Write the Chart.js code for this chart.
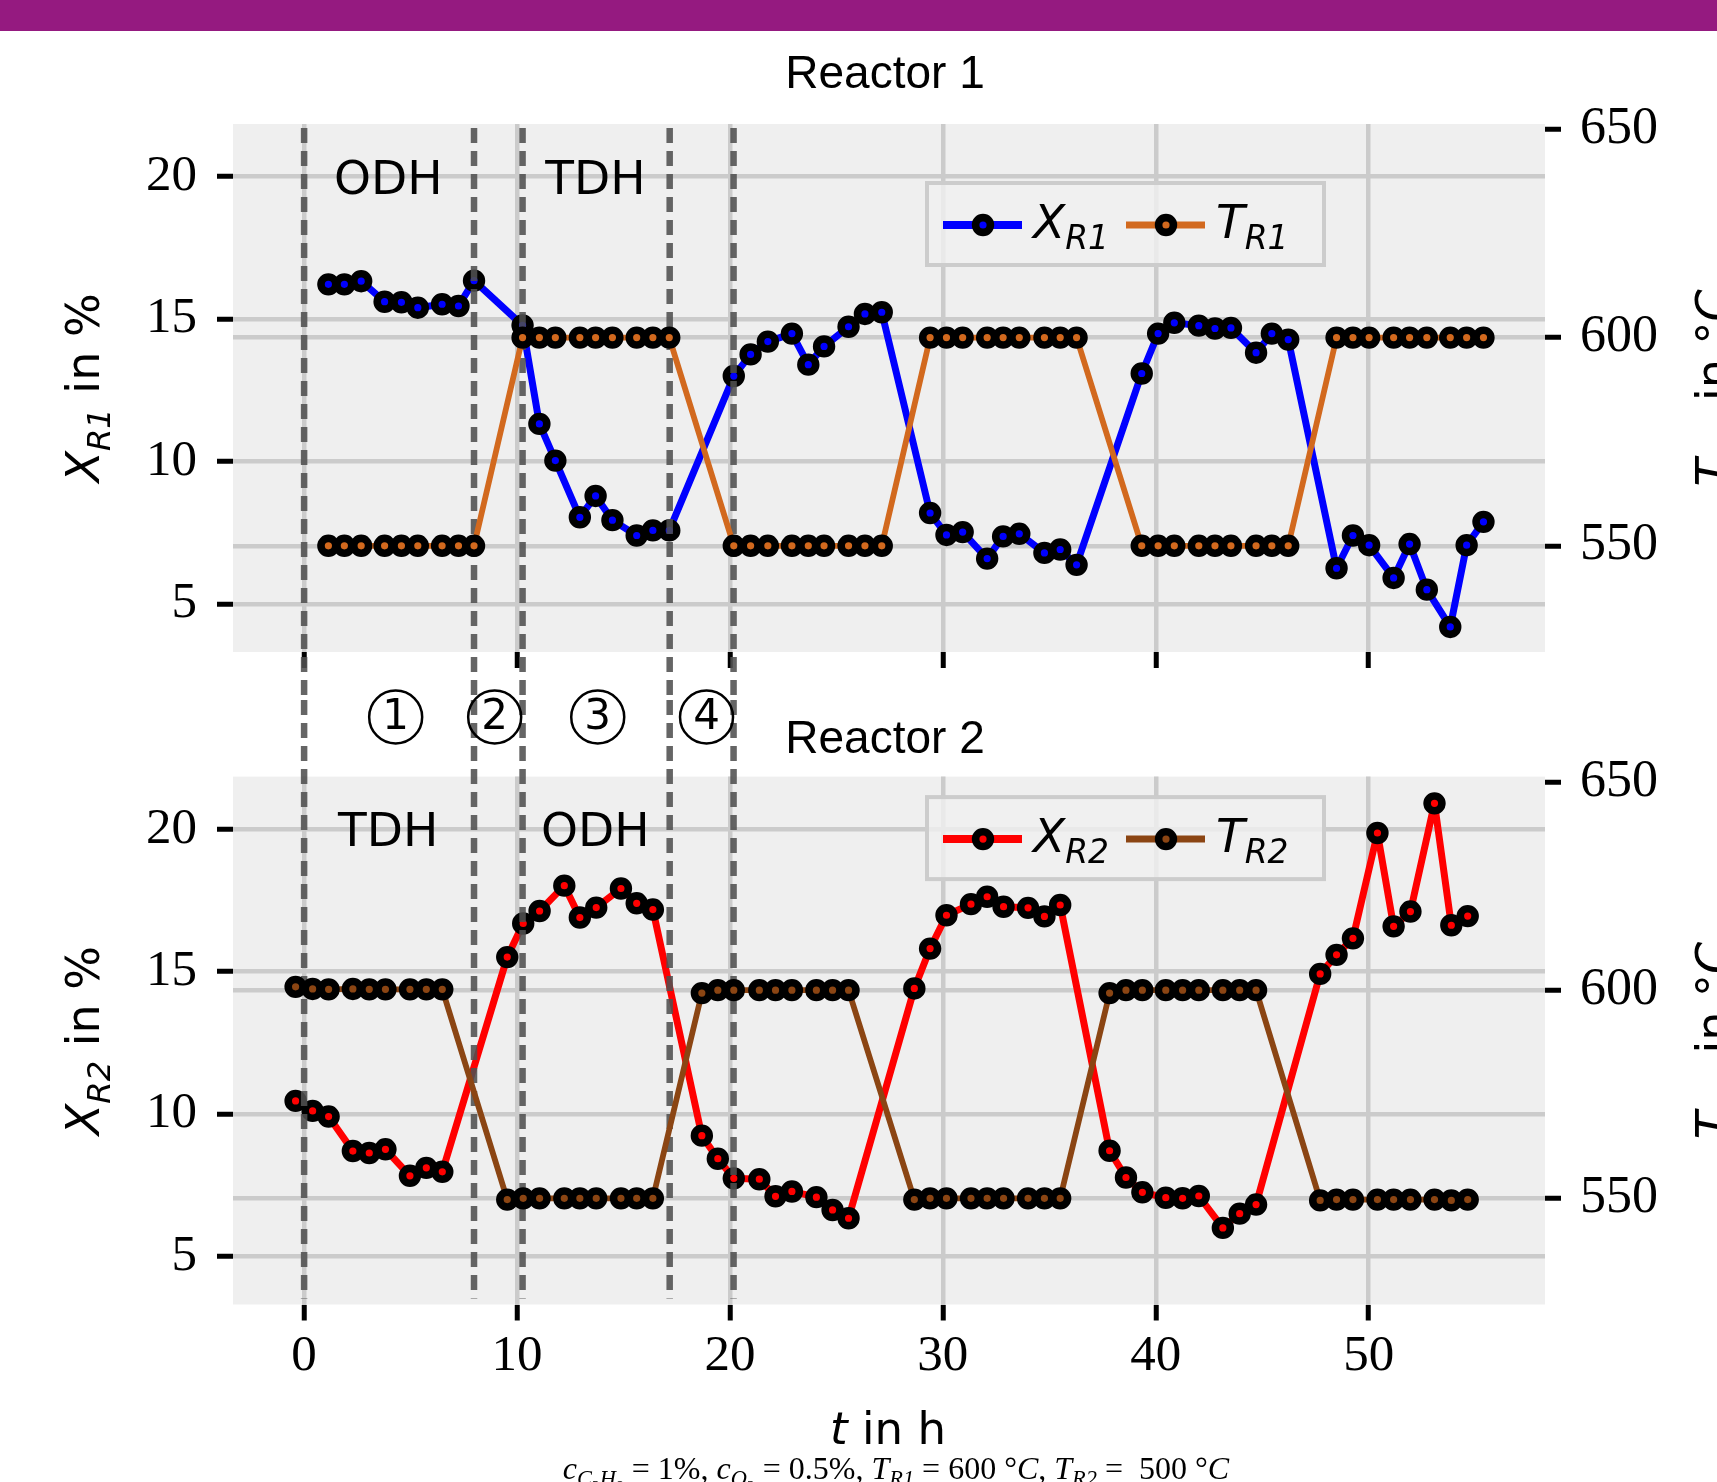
<!DOCTYPE html>
<html>
<head>
<meta charset="utf-8">
<script src="https://cdn.jsdelivr.net/npm/chart.js@4.4.1/dist/chart.umd.min.js"></script>
<style>
  html, body { margin: 0; padding: 0; background: #fff; }
  #page { position: relative; width: 1717px; height: 1482px; overflow: hidden; }
  #bar { position: absolute; left: 0; top: 0; width: 1717px; height: 31px; background: #951a80; z-index: 3; }
  #c1 { position: absolute; left: 0; top: 0; z-index: 2; }
  #c2 { position: absolute; left: 0; top: 700px; z-index: 1; }
</style>
</head>
<body>
<div id="page">
  <div id="bar"></div>
  <canvas id="c1" width="1717" height="760"></canvas>
  <canvas id="c2" width="1717" height="782"></canvas>
</div>
<script>
// axis ticks
var xTicks = [0, 10, 20, 30, 40, 50];
var convTicks = [5, 10, 15, 20];
var tempTicks = [550, 600, 650];

// switching times (dashed lines), step numbers, mode labels
var switchTimes = [0, 7.98, 10.26, 17.17, 20.17];
var stepNames = ['1', '2', '3', '4'];
var stepTimes = [4.30, 8.95, 13.79, 18.90];
var modeTimes = [3.95, 13.68];
var modesR1 = ['ODH', 'TDH'];
var modesR2 = ['TDH', 'ODH'];

// Reactor 1
var tR1 = [1.14, 1.89, 2.68, 3.78, 4.57, 5.34, 6.48, 7.25, 7.98,
           10.26, 11.05, 11.80, 12.95, 13.69, 14.48, 15.62, 16.38, 17.15,
           20.18, 20.97, 21.78, 22.91, 23.68, 24.42, 25.57, 26.34, 27.13,
           29.40, 30.17, 30.93, 32.08, 32.83, 33.59, 34.77, 35.51, 36.28,
           39.34, 40.11, 40.87, 42.02, 42.78, 43.53, 44.71, 45.45, 46.22,
           48.49, 49.26, 50.02, 51.17, 51.92, 52.73, 53.83, 54.60, 55.39];
var xR1 = [16.22, 16.22, 16.33, 15.61, 15.59, 15.40, 15.52, 15.46, 16.35,
           14.78, 11.32, 10.03, 8.04, 8.79, 7.94, 7.40, 7.58, 7.58,
           13.00, 13.76, 14.21, 14.49, 13.40, 14.04, 14.73, 15.18, 15.24,
           8.19, 7.42, 7.52, 6.59, 7.37, 7.46, 6.79, 6.91, 6.37,
           13.09, 14.49, 14.87, 14.77, 14.67, 14.69, 13.82, 14.49, 14.28,
           6.25, 7.40, 7.06, 5.91, 7.10, 5.50, 4.19, 7.06, 7.88];
var TR1 = [550, 550, 550, 550, 550, 550, 550, 550, 550,
           600, 600, 600, 600, 600, 600, 600, 600, 600,
           550, 550, 550, 550, 550, 550, 550, 550, 550,
           600, 600, 600, 600, 600, 600, 600, 600, 600,
           550, 550, 550, 550, 550, 550, 550, 550, 550,
           600, 600, 600, 600, 600, 600, 600, 600, 600];

// Reactor 2
var tR2 = [-0.40, 0.40, 1.15, 2.29, 3.06, 3.82, 4.97, 5.74, 6.49,
           9.54, 10.29, 11.06, 12.22, 12.95, 13.72, 14.88, 15.62, 16.38,
           18.68, 19.43, 20.18, 21.38, 22.14, 22.91, 24.06, 24.82, 25.57,
           28.66, 29.40, 30.17, 31.32, 32.08, 32.85, 34.00, 34.77, 35.51,
           37.83, 38.60, 39.37, 40.47, 41.26, 42.02, 43.15, 43.94, 44.71,
           47.72, 48.49, 49.26, 50.41, 51.17, 51.96, 53.09, 53.88, 54.65];
var xR2 = [10.46, 10.11, 9.91, 8.70, 8.63, 8.76, 7.83, 8.11, 7.97,
           15.51, 16.69, 17.13, 18.02, 16.90, 17.25, 17.92, 17.40, 17.18,
           9.24, 8.43, 7.74, 7.71, 7.11, 7.28, 7.08, 6.63, 6.34,
           14.41, 15.81, 16.98, 17.37, 17.63, 17.28, 17.24, 16.94, 17.34,
           8.71, 7.77, 7.25, 7.06, 7.04, 7.12, 6.00, 6.50, 6.82,
           14.92, 15.59, 16.17, 19.87, 16.59, 17.11, 20.91, 16.63, 16.95];
var TR2 = [600.8, 600.3, 600.2, 600.3, 600.2, 600.2, 600.2, 600.2, 600.2,
           549.7, 550, 550, 550, 550, 550, 550, 550, 550,
           599.3, 600, 600, 600, 600, 600, 600, 600, 600,
           549.7, 550, 550, 550, 550, 550, 550, 550, 550,
           599.3, 600, 600, 600, 600, 600, 600, 600, 600,
           549.5, 549.7, 549.7, 549.7, 549.7, 549.7, 549.7, 549.5, 549.7];

var GRID = '#cbcbcb';
var BG = '#efefef';
var SANS = '"DejaVu Sans"';
var SERIF = '"Liberation Serif"';
var PT_R = 7.4, PT_W = 7.6;

function pts(t, v) {
  return t.map(function (ti, i) { return { x: ti, y: v[i] }; });
}

function lineSet(label, t, v, color, axis, width, order) {
  return {
    label: label, data: pts(t, v), yAxisID: axis, order: order,
    borderColor: color, borderWidth: width, borderJoinStyle: 'round',
    pointRadius: PT_R, pointBorderWidth: PT_W, pointHoverRadius: PT_R, pointHoverBorderWidth: PT_W,
    pointBackgroundColor: color, pointBorderColor: '#000',
    tension: 0, clip: false
  };
}

// text with italic / subscript pieces
function drawRich(ctx, parts, x, y, size, family, align) {
  var fontOf = function (p) {
    return (p.it ? 'italic ' : '') + (size * Math.pow(0.7, p.sub || 0)) + 'px ' + family;
  };
  var w = 0;
  parts.forEach(function (p) { ctx.font = fontOf(p); w += ctx.measureText(p.t).width; });
  var cx = align === 'center' ? x - w / 2 : x;
  ctx.textAlign = 'left';
  ctx.textBaseline = 'alphabetic';
  parts.forEach(function (p) {
    ctx.font = fontOf(p);
    var dy = 0;
    if (p.sub === 1) dy = size * 0.23;
    if (p.sub === 2) dy = size * 0.23 + size * 0.7 * 0.23;
    ctx.fillText(p.t, cx, y + dy);
    cx += ctx.measureText(p.t).width;
  });
}

function marker(ctx, x, y, color) {
  ctx.beginPath();
  ctx.arc(x, y, PT_R, 0, Math.PI * 2);
  ctx.fillStyle = color;
  ctx.fill();
  ctx.lineWidth = PT_W;
  ctx.strokeStyle = '#000';
  ctx.stroke();
}

function panelPlugin(p) {
  return {
    id: 'panel',
    beforeDraw: function (chart) {
      var a = chart.chartArea, ctx = chart.ctx;
      ctx.save();
      ctx.fillStyle = BG;
      ctx.fillRect(a.left, a.top, a.right - a.left, a.bottom - a.top);
      ctx.restore();
    },
    afterDatasetDraw: function (chart, args) {
      if (args.index !== 0) return;
      var ctx = chart.ctx, xs = chart.scales.x;
      ctx.save();
      ctx.strokeStyle = 'rgba(80,80,80,0.88)';
      ctx.lineWidth = 6.5;
      ctx.setLineDash([15, 8]);
      switchTimes.forEach(function (t) {
        var px = xs.getPixelForValue(t);
        ctx.beginPath();
        ctx.moveTo(px, p.dashFrom(chart));
        ctx.lineTo(px, p.dashTo(chart));
        ctx.stroke();
      });
      ctx.restore();
    },
    afterDraw: function (chart) {
      var ctx = chart.ctx, a = chart.chartArea;
      var xs = chart.scales.x, yl = chart.scales.y;
      ctx.save();
      ctx.fillStyle = '#000';

      // mode labels
      ctx.font = '47px ' + SANS;
      ctx.textAlign = 'center';
      ctx.textBaseline = 'middle';
      p.modes.forEach(function (m, i) {
        ctx.fillText(m, xs.getPixelForValue(modeTimes[i]), yl.getPixelForValue(20) + 5);
      });

      // title
      ctx.font = '46px "Liberation Sans"';
      ctx.textAlign = 'center';
      ctx.textBaseline = 'alphabetic';
      ctx.fillText(p.title, 885, p.titleY);

      // axis titles
      var cy = (a.top + a.bottom) / 2;
      ctx.save();
      ctx.translate(99, cy);
      ctx.rotate(-Math.PI / 2);
      drawRich(ctx, [{ t: 'X', it: 1 }, { t: p.sub, it: 1, sub: 1 }, { t: ' in %' }], 0, 0, 46, SANS, 'center');
      ctx.restore();
      ctx.save();
      ctx.translate(1729, cy);
      ctx.rotate(-Math.PI / 2);
      drawRich(ctx, [{ t: 'T', it: 1 }, { t: p.sub, it: 1, sub: 1 }, { t: ' in °' }, { t: 'C', it: 1 }], 0, 0, 46, SANS, 'center');
      ctx.restore();

      // legend
      var bx = 927, by = a.top + p.legendOff, bw = 397, bh = 82;
      ctx.fillStyle = 'rgba(240,240,240,0.8)';
      ctx.fillRect(bx, by, bw, bh);
      ctx.strokeStyle = '#cccccc';
      ctx.lineWidth = 4;
      ctx.strokeRect(bx, by, bw, bh);
      var items = [
        { c: p.xColor, w: 8, name: 'X', x0: 16 },
        { c: p.tColor, w: 7, name: 'T', x0: 199 }
      ];
      items.forEach(function (it) {
        ctx.strokeStyle = it.c;
        ctx.lineWidth = it.w;
        ctx.beginPath();
        ctx.moveTo(bx + it.x0, by + 42);
        ctx.lineTo(bx + it.x0 + 79, by + 42);
        ctx.stroke();
        marker(ctx, bx + it.x0 + 40, by + 42, it.c);
        ctx.fillStyle = '#000';
        drawRich(ctx, [{ t: it.name, it: 1 }, { t: p.sub, it: 1, sub: 1 }], bx + it.x0 + 90, by + 55, 47, SANS, 'left');
      });

      if (p.extra) p.extra(chart);
      ctx.restore();
    }
  };
}

function makePanel(id, p) {
  var plugin = panelPlugin(p);
  return new Chart(document.getElementById(id), {
    type: 'line',
    data: {
      datasets: [
        lineSet('X', p.t, p.X, p.xColor, 'y', 7, 1),
        lineSet('T', p.t, p.T, p.tColor, 'yT', 5.8, 0)
      ]
    },
    options: {
      responsive: false,
      animation: false,
      devicePixelRatio: 1,
      events: [],
      layout: { padding: { top: p.padTop, left: 0, right: 0, bottom: 0 } },
      plugins: { legend: { display: false }, tooltip: { enabled: false }, title: { display: false } },
      scales: {
        x: {
          type: 'linear', min: -3.34, max: 58.28,
          afterBuildTicks: function (s) { s.ticks = xTicks.map(function (v) { return { value: v }; }); },
          afterFit: function (s) { s.height = p.xAxisH; },
          border: { display: false },
          grid: { color: GRID, lineWidth: 4.5, tickColor: '#000', tickWidth: 5, tickLength: 16 },
          ticks: {
            display: p.showX, autoSkip: false, maxRotation: 0, padding: 6, color: '#000',
            font: { family: 'Liberation Serif', size: 51 },
            callback: function (v) { return String(v); }
          }
        },
        y: {
          type: 'linear', position: 'left', min: 3.31, max: 21.85,
          afterBuildTicks: function (s) { s.ticks = convTicks.map(function (v) { return { value: v }; }); },
          afterFit: function (s) { s.width = 233; },
          border: { display: false },
          grid: { color: GRID, lineWidth: 4.5, tickColor: '#000', tickWidth: 5, tickLength: 16 },
          ticks: {
            padding: 20, color: '#000', font: { family: 'Liberation Serif', size: 51 },
            callback: function (v) { return String(v); }
          }
        },
        yT: {
          type: 'linear', position: 'right', min: 524.5, max: 651.3,
          afterBuildTicks: function (s) { s.ticks = tempTicks.map(function (v) { return { value: v }; }); },
          afterFit: function (s) { s.width = 172; },
          border: { display: false },
          grid: {
            lineWidth: 4.5, tickColor: '#000', tickWidth: 5, tickLength: 16,
            color: function (c) { return c.tick && c.tick.value === 650 ? 'rgba(0,0,0,0)' : GRID; }
          },
          ticks: {
            padding: 19, color: '#000', font: { family: 'Liberation Serif', size: 52 },
            callback: function (v) { return String(v); }
          }
        }
      }
    },
    plugins: [plugin]
  });
}

makePanel('c1', {
  t: tR1, X: xR1, T: TR1, xColor: '#0000ff', tColor: '#d2691e', sub: 'R1',
  title: 'Reactor 1', titleY: 87.5, modes: modesR1,
  padTop: 124, xAxisH: 108, showX: false, legendOff: 59,
  dashFrom: function (c) { return c.chartArea.top + 4; },
  dashTo: function (c) { return 700; },
  extra: function (chart) {
    var ctx = chart.ctx, xs = chart.scales.x;
    var cy = chart.chartArea.bottom + 65;
    stepNames.forEach(function (s, i) {
      var cx = xs.getPixelForValue(stepTimes[i]);
      ctx.beginPath();
      ctx.arc(cx, cy, 26.5, 0, Math.PI * 2);
      ctx.strokeStyle = '#000';
      ctx.lineWidth = 2.5;
      ctx.stroke();
      ctx.fillStyle = '#000';
      ctx.font = '42px ' + SANS;
      ctx.textAlign = 'center';
      ctx.textBaseline = 'middle';
      ctx.fillText(s, cx, cy + 1);
    });
  }
});

makePanel('c2', {
  t: tR2, X: xR2, T: TR2, xColor: '#ff0000', tColor: '#8b4513', sub: 'R2',
  title: 'Reactor 2', titleY: 52.5, modes: modesR2,
  padTop: 76.6, xAxisH: 177.5, showX: true, legendOff: 20.5,
  dashFrom: function (c) { return 0; },
  dashTo: function (c) { return c.chartArea.bottom - 6; },
  extra: function (chart) {
    var ctx = chart.ctx;
    ctx.fillStyle = '#000';
    drawRich(ctx, [{ t: 't', it: 1 }, { t: ' in h' }], 888, 744, 45, SANS, 'center');
    drawRich(ctx, [
      { t: 'c', it: 1 }, { t: 'C', it: 1, sub: 1 }, { t: '3', sub: 2 }, { t: 'H', it: 1, sub: 1 }, { t: '8', sub: 2 },
      { t: ' = 1%, ' }, { t: 'c', it: 1 }, { t: 'O', it: 1, sub: 1 }, { t: '2', sub: 2 },
      { t: ' = 0.5%, ' }, { t: 'T', it: 1 }, { t: 'R1', it: 1, sub: 1 }, { t: ' = 600 °' }, { t: 'C', it: 1 },
      { t: ', ' }, { t: 'T', it: 1 }, { t: 'R2', it: 1, sub: 1 }, { t: ' =  500 °' }, { t: 'C', it: 1 }
    ], 896, 779, 32, SERIF, 'center');
  }
});
</script>
</body>
</html>
